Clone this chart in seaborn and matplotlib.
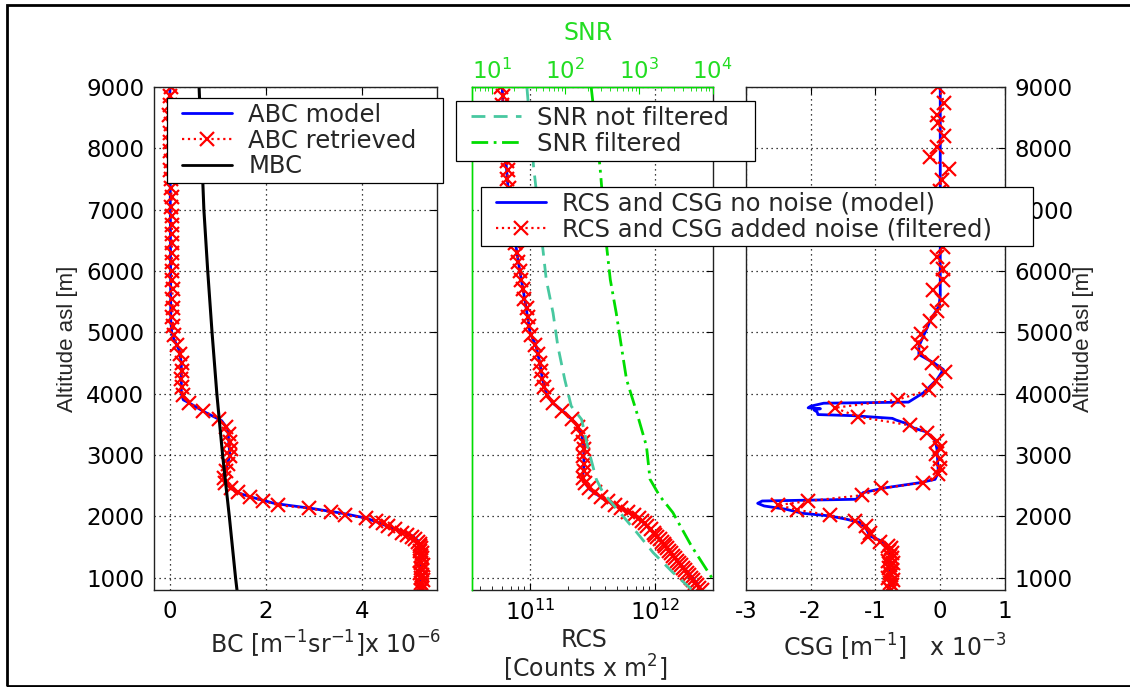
import numpy as np
import pandas as pd
import matplotlib
matplotlib.use("Agg")
import matplotlib.pyplot as plt
import seaborn as sns
from matplotlib.lines import Line2D
from matplotlib.legend_handler import HandlerLine2D
from matplotlib.patches import Rectangle
from matplotlib.ticker import LogLocator, NullFormatter, FixedLocator

# ---------------------------------------------------------------- data
# Backscatter coefficient, units of 1e-6 m^-1 sr^-1
alt_bc_model = [9000, 5200, 5000, 4900, 4700, 4500, 4000, 3900, 3860, 3700, 3560,
                3420, 3000, 2700, 2660, 2480, 2390, 2320, 2210, 2130, 2050, 1970,
                1890, 1800, 1750, 1685, 1600, 1500, 800]
bc_model = [0.0, 0.02, 0.04, 0.08, 0.20, 0.24, 0.24, 0.28, 0.38, 0.73, 1.08,
            1.21, 1.25, 1.15, 1.10, 1.25, 1.40, 1.67, 2.19, 2.96, 3.60, 4.10,
            4.38, 4.66, 4.87, 5.05, 5.18, 5.22, 5.22]

alt_mbc = [9000, 8000, 7000, 6000, 5000, 4000, 3000, 2000, 1000, 800]
mbc = [0.61, 0.66, 0.71, 0.79, 0.88, 0.98, 1.10, 1.24, 1.37, 1.40]

# Retrieval grid shared by BC and RCS
alt_ret = [9000, 8850, 8700, 8550, 8400, 8250, 8100, 7950, 7800, 7650, 7500, 7350,
           7200, 7050, 6900, 6750, 6600, 6450, 6300, 6150, 6000, 5850, 5700, 5550,
           5400, 5250, 5100, 4950, 4800, 4650, 4500, 4370, 4240, 4110, 3980, 3850,
           3720, 3590, 3460, 3340, 3220, 3100, 2980, 2860, 2740, 2630, 2540, 2455,
           2390, 2315, 2250, 2185, 2130, 2070, 2020, 1970, 1925, 1885, 1845, 1790,
           1735, 1700, 1670, 1630, 1585, 1550, 1520, 1480, 1440, 1400, 1360, 1320,
           1280, 1240, 1200, 1160, 1120, 1080, 1040, 1000, 960, 920, 880, 840, 800]
bc_ret = [0.02, 0.00, 0.01, -0.01, 0.02, 0.00, 0.01, 0.00, 0.02, 0.01, 0.03, 0.02,
          0.04, 0.03, 0.05, 0.04, 0.05, 0.04, 0.05, 0.04, 0.05, 0.04, 0.06, 0.05,
          0.06, 0.05, 0.07, 0.09, 0.15, 0.22, 0.25, 0.26, 0.24, 0.25, 0.27, 0.40,
          0.70, 1.02, 1.18, 1.24, 1.25, 1.27, 1.26, 1.22, 1.17, 1.13, 1.15, 1.28,
          1.42, 1.68, 1.95, 2.25, 2.90, 3.35, 3.65, 4.10, 4.30, 4.45, 4.55, 4.70,
          4.85, 4.95, 5.05, 5.12, 5.18, 5.21, 5.22, 5.24, 5.22, 5.25, 5.23, 5.26,
          5.22, 5.24, 5.27, 5.23, 5.25, 5.22, 5.26, 5.24, 5.27, 5.23, 5.25, 5.26, 5.24]

# Range corrected signal, counts x m^2
alt_rcs_model = [9000, 8000, 7000, 6500, 6000, 5534, 5000, 4774, 4503, 4232, 4015,
                 3853, 3690, 3527, 3365, 3147, 2821, 2605, 2442, 2279, 2116, 1954,
                 1628, 1303, 977, 800]
rcs_model = [6.0e10, 6.3e10, 6.9e10, 7.6e10, 8.3e10, 9.1e10, 1.0e11, 1.12e11,
             1.2e11, 1.26e11, 1.35e11, 1.51e11, 1.9e11, 2.3e11, 2.57e11, 2.7e11,
             2.7e11, 2.63e11, 3.0e11, 3.9e11, 5.6e11, 7.6e11, 1.1e12, 1.48e12,
             2.04e12, 2.36e12]
rcs_ret = [5.9e10, 6.1e10, 6.0e10, 6.2e10, 6.2e10, 6.4e10, 6.3e10, 6.5e10, 6.5e10,
           6.7e10, 6.6e10, 6.8e10, 6.9e10, 7.0e10, 7.1e10, 7.3e10, 7.5e10, 7.6e10,
           7.9e10, 8.0e10, 8.3e10, 8.5e10, 8.8e10, 9.0e10, 9.4e10, 9.6e10, 9.8e10,
           1.02e11, 1.10e11, 1.16e11, 1.20e11, 1.23e11, 1.26e11, 1.30e11, 1.37e11,
           1.52e11, 1.80e11, 2.15e11, 2.42e11, 2.58e11, 2.65e11, 2.70e11, 2.68e11,
           2.72e11, 2.69e11, 2.64e11, 2.75e11, 2.98e11, 3.3e11, 3.7e11, 4.2e11,
           4.8e11, 5.4e11, 6.1e11, 6.8e11, 7.4e11, 7.9e11, 8.3e11, 8.7e11, 9.3e11,
           9.8e11, 1.01e12, 1.04e12, 1.09e12, 1.14e12, 1.18e12, 1.21e12, 1.25e12,
           1.29e12, 1.34e12, 1.39e12, 1.45e12, 1.50e12, 1.56e12, 1.62e12, 1.68e12,
           1.74e12, 1.81e12, 1.88e12, 1.95e12, 2.03e12, 2.10e12, 2.18e12, 2.27e12,
           2.36e12]

# Signal to noise ratio
alt_snr_raw = [9000, 7700, 6500, 5859, 5317, 4774, 4232, 3798, 3581, 3147, 2605,
               2388, 2062, 1737, 1411, 1086, 868, 800]
snr_raw = [30, 37, 48, 55, 68, 79, 98, 120, 166, 200, 263, 324, 550, 933, 1550,
           2880, 4570, 5250]
alt_snr_filt = [9000, 7700, 6400, 5859, 5317, 4774, 4232, 3690, 3147, 2605, 2334,
                2062, 1520, 977, 800]
snr_filt = [224, 295, 363, 407, 490, 575, 676, 933, 1260, 1410, 1905, 2880, 5130,
            10000, 12500]

# Range corrected signal gradient, units of 1e-3 m^-1
alt_csg_model = [9000, 5600, 5425, 5200, 4774, 4639, 4503, 4394, 4232, 4015, 3863,
                 3845, 3797, 3770, 3755, 3735, 3700, 3660, 3642, 3598, 3570, 3517,
                 3435, 3380, 3244, 3093, 2713, 2604, 2550, 2469, 2388, 2279, 2251,
                 2213, 2170, 2116, 2051, 2008, 1954, 1900, 1791, 1683, 1584, 1519,
                 1438, 800]
csg_model = [0.0, 0.0, -0.02, -0.15, -0.33, -0.33, -0.10, 0.05, -0.05, -0.26, -0.49,
             -1.80, -2.00, -2.04, -1.85, -1.95, -1.90, -1.89, -1.35, -0.74, -0.68,
             -0.53, -0.40, -0.22, -0.08, -0.05, -0.03, -0.08, -0.31, -0.83, -1.19,
             -1.30, -2.75, -2.82, -2.72, -2.38, -2.13, -1.71, -1.45, -1.24, -1.14,
             -1.09, -0.88, -0.81, -0.78, -0.78]
alt_csg = [9000, 8745, 8545, 8410, 8200, 8020, 7855, 7660, 7490, 7310, 7130, 6950,
           6770, 6590, 6390, 6230, 6035, 5860, 5695, 5520, 5345, 5180, 4980, 4830,
           4665, 4505, 4350, 4205, 4060, 3905, 3770, 3625, 3485, 3355, 3230, 3120,
           3010, 2930, 2795, 2685, 2550, 2455, 2345, 2250, 2185, 2105, 2020, 1925,
           1845, 1735, 1670, 1585, 1520, 1480, 1440, 1400, 1360, 1320, 1280, 1240,
           1200, 1160, 1120, 1080, 1040, 1000, 960, 920, 880, 840, 800]
csg_ret = [-0.03, 0.06, -0.05, -0.03, 0.06, -0.05, -0.16, 0.14, 0.02, -0.01, 0.03,
           -0.02, 0.04, 0.00, 0.05, -0.05, 0.05, 0.04, -0.11, 0.02, -0.05, -0.16,
           -0.29, -0.35, -0.29, -0.13, 0.07, -0.07, -0.18, -0.65, -1.63, -1.27,
           -0.47, -0.20, -0.05, 0.00, -0.07, 0.00, 0.00, -0.03, -0.26, -0.92, -1.21,
           -2.04, -2.50, -2.21, -1.70, -1.32, -1.14, -1.09, -1.11, -0.93, -0.80,
           -0.76, -0.79, -0.74, -0.78, -0.75, -0.80, -0.73, -0.77, -0.79, -0.74,
           -0.78, -0.76, -0.80, -0.73, -0.77, -0.75, -0.79, -0.76]

alt_ticks = [1000, 2000, 3000, 4000, 5000, 6000, 7000, 8000, 9000]

# ---------------------------------------------------------------- style
sns.set_style("white")
plt.rcParams["font.family"] = ["DejaVu Sans"]
plt.rcParams["mathtext.fontset"] = "dejavusans"
plt.rcParams["axes.unicode_minus"] = False

BLUE, RED, BLACK = "#0000FF", "#FF0000", "#000000"
TEAL, GREEN, GREEN_TXT = "#48C8A0", "#00DD00", "#22DD22"
TICK_FS, LAB_FS, LEG_FS = 16.5, 17, 17.5

W, H = 1130, 687
fig = plt.figure(figsize=(W / 100, H / 100), dpi=100)


def px_box(x0, y0, x1, y1):
    return [x0 / W, 1 - y1 / H, (x1 - x0) / W, (y1 - y0) / H]


ax_bc = fig.add_axes(px_box(154, 87, 437, 590))
ax_rcs = fig.add_axes(px_box(471.7, 87, 712.7, 590))
ax_csg = fig.add_axes(px_box(746, 87, 1005, 590))


def frame_style(ax, grid_x=True):
    ax.tick_params(direction="in", which="major", top=True, right=True, length=5,
                   width=0.8, labelsize=TICK_FS, pad=7, colors=BLACK)
    ax.tick_params(direction="in", which="minor", top=True, right=True, length=3,
                   width=0.7)
    for s in ax.spines.values():
        s.set_linewidth(1.0)
        s.set_color("#222222")
    ax.set_ylim(800, 9000)
    ax.set_yticks(alt_ticks)
    ax.yaxis.grid(True, linestyle=(0, (1, 3)), color=BLACK, linewidth=0.9)
    ax.xaxis.grid(grid_x, linestyle=(0, (1, 3)), color=BLACK, linewidth=0.9)
    ax.set_xlabel("")
    ax.set_ylabel("")


def profile(ax, vals, alts, **kw):
    df = pd.DataFrame({"v": vals, "alt": alts})
    sns.lineplot(data=df, x="v", y="alt", sort=False, estimator=None, ax=ax, **kw)


ret_kw = dict(color=RED, linestyle=":", linewidth=1.6, marker="x", markersize=10,
              markeredgewidth=1.6, markeredgecolor=RED)

# ---- backscatter coefficient
profile(ax_bc, bc_model, alt_bc_model, color=BLUE, linewidth=2)
profile(ax_bc, bc_ret, alt_ret, **ret_kw)
profile(ax_bc, mbc, alt_mbc, color=BLACK, linewidth=2.2)
ax_bc.set_xlim(-0.33, 5.57)
ax_bc.set_xticks([0, 2, 4])
frame_style(ax_bc)

# ---- range corrected signal with SNR on a top axis
ax_rcs.set_xscale("log")
profile(ax_rcs, rcs_model, alt_rcs_model, color=BLUE, linewidth=2)
profile(ax_rcs, rcs_ret, alt_ret, **ret_kw)
ax_rcs.set_xlim(10 ** 10.534, 10 ** 12.462)
frame_style(ax_rcs, grid_x=False)
ax_rcs.xaxis.set_major_locator(LogLocator(base=10, numticks=10))
ax_rcs.xaxis.set_minor_locator(LogLocator(base=10, subs=np.arange(2, 10), numticks=10))
ax_rcs.xaxis.set_minor_formatter(NullFormatter())
ax_rcs.tick_params(labelleft=False)
ax_rcs.spines["left"].set_color(GREEN)

ax_snr = ax_rcs.twiny()
ax_snr.set_xscale("log")
profile(ax_snr, snr_raw, alt_snr_raw, color=TEAL, linewidth=2, linestyle=(0, (5, 3)))
profile(ax_snr, snr_filt, alt_snr_filt, color=GREEN, linewidth=2,
        linestyle=(0, (6, 2, 1, 2)))
ax_snr.set_xlim(10 ** 0.728, 1e4)
ax_snr.set_ylim(800, 9000)
ax_snr.set_xlabel("")
ax_snr.set_ylabel("")
ax_snr.xaxis.set_major_locator(FixedLocator([1e1, 1e2, 1e3, 1e4]))
ax_snr.xaxis.set_minor_locator(LogLocator(base=10, subs=np.arange(2, 10), numticks=10))
ax_snr.xaxis.set_minor_formatter(NullFormatter())
ax_snr.tick_params(axis="x", which="both", direction="in", colors=GREEN,
                   labelcolor=GREEN_TXT, labelsize=TICK_FS, pad=2)
ax_snr.tick_params(axis="x", which="major", length=5)
ax_snr.tick_params(axis="x", which="minor", length=3)
for side in ("bottom", "right"):
    ax_snr.spines[side].set_visible(False)
for side in ("top", "left"):
    ax_snr.spines[side].set_color(GREEN)
    ax_snr.spines[side].set_linewidth(1.0)

# ---- range corrected signal gradient
profile(ax_csg, csg_model, alt_csg_model, color=BLUE, linewidth=2)
profile(ax_csg, csg_ret, alt_csg, **ret_kw)
ax_csg.set_xlim(-3, 1)
ax_csg.set_xticks([-3, -2, -1, 0, 1])
frame_style(ax_csg)
ax_csg.tick_params(labelleft=False, labelright=True)

# ---------------------------------------------------------------- labels
def ftext(x, y, s, **kw):
    fig.text(x / W, 1 - y / H, s, ha="center", va="center", **kw)


ftext(67, 338.5, "Altitude asl [m]", rotation=90, fontsize=16,
      family=["Liberation Sans", "DejaVu Sans"])
ftext(1083, 338.5, "Altitude asl [m]", rotation=90, fontsize=16,
      family=["Liberation Sans", "DejaVu Sans"])
ftext(326, 644, r"BC [m$^{-1}$sr$^{-1}$]x 10$^{-6}$", fontsize=LAB_FS)
ftext(584, 640, "RCS", fontsize=LAB_FS)
ftext(585, 668, r"[Counts x m$^{2}$]", fontsize=LAB_FS)
ftext(895, 647, r"CSG [m$^{-1}$]   x 10$^{-3}$", fontsize=LAB_FS)
ftext(588, 33, "SNR", fontsize=LAB_FS, color=GREEN_TXT)

# ---------------------------------------------------------------- legends
def handle(**kw):
    return Line2D([], [], **kw)


h_model = handle(color=BLUE, linewidth=2)
h_ret = handle(color=RED, linestyle=":", linewidth=1.6, marker="x", markersize=10,
               markeredgewidth=1.6)
leg_kw = dict(loc="upper left", mode="expand", bbox_transform=fig.transFigure,
              borderaxespad=0, frameon=True, fancybox=False, edgecolor=BLACK,
              framealpha=1, fontsize=LEG_FS, handlelength=2.48, handletextpad=0.66,
              labelspacing=0.08, borderpad=0.2,
              handler_map={Line2D: HandlerLine2D(xpad=0.42)})

legends = [
    fig.legend([h_model, h_ret, handle(color=BLACK, linewidth=2)],
               ["ABC model", "ABC retrieved", "MBC"],
               bbox_to_anchor=px_box(167, 97.7, 443, 181), **leg_kw),
    fig.legend([handle(color=TEAL, linewidth=2, linestyle=(0, (5, 3))),
                handle(color=GREEN, linewidth=2, linestyle=(0, (6, 2, 1, 2)))],
               ["SNR not filtered", "SNR filtered"],
               bbox_to_anchor=px_box(455.7, 101, 755, 160), **leg_kw),
    fig.legend([h_model, h_ret],
               ["RCS and CSG no noise (model)", "RCS and CSG added noise (filtered)"],
               bbox_to_anchor=px_box(480.7, 186.7, 1033, 244.3), **leg_kw),
]
for lg in legends:
    lg.get_frame().set_linewidth(0.9)

# outer border
fig.add_artist(Rectangle((7 / W, 1 - 686 / H), (1150 - 7) / W, (686 - 5) / H,
                         transform=fig.transFigure, fill=False, linewidth=2,
                         edgecolor=BLACK, clip_on=False))

fig.savefig("out.png", dpi=100)
